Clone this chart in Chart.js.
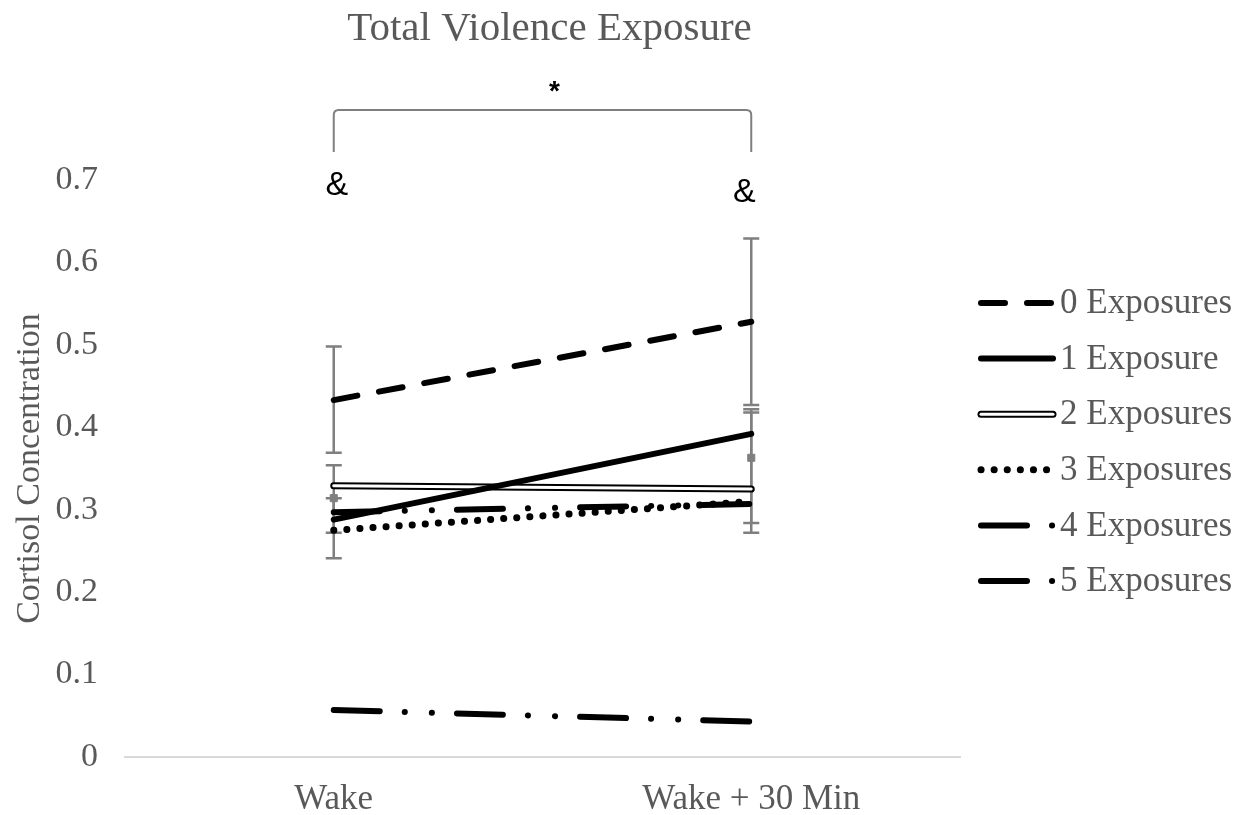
<!DOCTYPE html>
<html>
<head>
<meta charset="utf-8">
<script src="https://cdn.jsdelivr.net/npm/chart.js@4.4.0/dist/chart.umd.min.js"></script>
<style>
  html, body { margin: 0; padding: 0; background: #fff; }
  #wrap { width: 1237px; height: 815px; }
</style>
</head>
<body>
<div id="wrap"><canvas id="chart"></canvas></div>
<script>
const timepoints = ['Wake', 'Wake + 30 Min'];
const seriesNames = ['0 Exposures', '1 Exposure', '2 Exposures', '3 Exposures', '4 Exposures', '5 Exposures'];

const zeroExposures = [0.433, 0.528];
const oneExposure = [0.288, 0.392];
const twoExposures = [0.329, 0.325];
const threeExposures = [0.275, 0.310];
const fourExposures = [0.297, 0.307];
const fiveExposures = [0.057, 0.043];

// error bars (low / high)
const zeroErrLow = [0.369, 0.427];
const zeroErrHigh = [0.498, 0.629];
const oneErrLow = [0.241, 0.272];
const oneErrHigh = [0.354, 0.418];
const threeErrLow = [0.272, 0.284];
const threeErrHigh = [0.314, 0.422];
const greyMarkers = [0.314, 0.363];

const serif = '"Liberation Serif", "Times New Roman", serif';
const grey = '#595959';

const styles = [
  { dash: [24, 22], width: 6 },
  { dash: [], width: 6 },
  { dash: [], width: 7, double: true },
  { dash: [0.1, 13], width: 7 },
  { dash: [46, 25, 0.1, 27, 0.1, 25], width: 6 },
  { dash: [46, 25, 0.1, 27, 0.1, 25], width: 6 }
];

const errorBars = [
  { low: zeroErrLow, high: zeroErrHigh },
  { low: oneErrLow, high: oneErrHigh },
  { low: threeErrLow, high: threeErrHigh }
];

function lineSet(label, data, style, order, color, width) {
  return {
    label: label,
    data: data,
    borderColor: color || '#000',
    borderWidth: width || style.width,
    borderDash: style.dash,
    borderCapStyle: 'round',
    pointRadius: 0,
    fill: false,
    tension: 0,
    order: order
  };
}

const errorBarPlugin = {
  id: 'errorBars',
  beforeDatasetsDraw(chart) {
    const ctx = chart.ctx;
    const x = chart.scales.x, y = chart.scales.y;
    ctx.save();
    ctx.strokeStyle = '#7f7f7f';
    ctx.lineWidth = 2.5;
    errorBars.forEach(eb => {
      eb.low.forEach((lo, i) => {
        const px = x.getPixelForValue(i);
        const y1 = y.getPixelForValue(lo), y2 = y.getPixelForValue(eb.high[i]);
        ctx.beginPath();
        ctx.moveTo(px, y1); ctx.lineTo(px, y2);
        ctx.moveTo(px - 8, y1); ctx.lineTo(px + 8, y1);
        ctx.moveTo(px - 8, y2); ctx.lineTo(px + 8, y2);
        ctx.stroke();
      });
    });
    ctx.restore();
  }
};

const annotationPlugin = {
  id: 'annotations',
  afterDraw(chart) {
    const ctx = chart.ctx;
    const x = chart.scales.x;
    const top = chart.chartArea.top;
    const x0 = x.getPixelForValue(0), x1 = x.getPixelForValue(1);
    ctx.save();
    // title, a little right of the plot centre as in the source
    ctx.fillStyle = grey;
    ctx.textAlign = 'center';
    ctx.textBaseline = 'middle';
    ctx.font = '41px ' + serif;
    ctx.fillText('Total Violence Exposure', (x0 + x1) / 2 + 7, top - 151);
    // bracket
    ctx.strokeStyle = '#7f7f7f';
    ctx.lineWidth = 2;
    const by = top - 70, r = 5;
    ctx.beginPath();
    ctx.moveTo(x0, top - 28);
    ctx.lineTo(x0, by + r);
    ctx.quadraticCurveTo(x0, by, x0 + r, by);
    ctx.lineTo(x1 - r, by);
    ctx.quadraticCurveTo(x1, by, x1, by + r);
    ctx.lineTo(x1, top - 28);
    ctx.stroke();
    ctx.fillStyle = '#000';
    ctx.font = 'bold 28px "Liberation Sans", Arial, sans-serif';
    ctx.fillText('*', (x0 + x1) / 2 + 12, top - 88);
    ctx.font = '34px "Liberation Sans", Arial, sans-serif';
    ctx.fillText('&', x0 + 3, top + 6);
    ctx.fillText('&', x1 - 7, top + 13);

    // legend
    const lx = chart.chartArea.right + 18;
    ctx.textAlign = 'left';
    ctx.font = '35px ' + serif;
    seriesNames.forEach((name, i) => {
      const st = styles[i];
      const ly = 303 + i * 55.6;
      ctx.save();
      ctx.lineCap = 'round';
      ctx.setLineDash(st.dash);
      ctx.strokeStyle = '#000';
      ctx.lineWidth = st.width;
      ctx.beginPath();
      ctx.moveTo(lx + 3, ly); ctx.lineTo(lx + 75, ly);
      ctx.stroke();
      if (st.double) {
        ctx.strokeStyle = '#fff';
        ctx.lineWidth = 3;
        ctx.beginPath();
        ctx.moveTo(lx + 3, ly); ctx.lineTo(lx + 75, ly);
        ctx.stroke();
      }
      ctx.restore();
      ctx.fillStyle = grey;
      ctx.fillText(name, lx + 82, ly + 1);
    });
    ctx.restore();
  }
};

const ctx = document.getElementById('chart').getContext('2d');
const chart = new Chart(ctx, {
  type: 'line',
  data: {
    labels: timepoints,
    datasets: [
      lineSet(seriesNames[0], zeroExposures, styles[0], 1),
      lineSet(seriesNames[1], oneExposure, styles[1], 2),
      lineSet(seriesNames[2], twoExposures, styles[2], 4),
      lineSet(seriesNames[2] + ' inner', twoExposures, styles[2], 3, '#fff', 3),
      lineSet(seriesNames[3], threeExposures, styles[3], 5),
      lineSet(seriesNames[4], fourExposures, styles[4], 6),
      lineSet(seriesNames[5], fiveExposures, styles[5], 7),
      {
        label: 'markers',
        data: greyMarkers,
        showLine: false,
        pointStyle: 'rect',
        pointRadius: 5,
        backgroundColor: '#7f7f7f',
        borderColor: '#7f7f7f',
        order: 8
      }
    ]
  },
  options: {
    responsive: true,
    maintainAspectRatio: false,
    animation: false,
    layout: { padding: { left: 0, right: 277, top: 180, bottom: 0 } },
    scales: {
      x: {
        offset: true,
        grid: { display: false, drawTicks: false },
        border: { display: true, color: '#d9d9d9', width: 2 },
        ticks: { color: grey, font: { family: serif, size: 35 }, padding: 22 },
        afterFit(scale) { scale.height = 58; }
      },
      y: {
        min: 0,
        max: 0.7,
        grid: { display: false, drawTicks: false },
        border: { display: false },
        ticks: {
          stepSize: 0.1,
          color: grey,
          padding: 27,
          font: { family: serif, size: 34 },
          callback: v => v === 0 ? '0' : v.toFixed(1)
        },
        title: {
          display: true,
          text: 'Cortisol Concentration',
          color: grey,
          font: { family: serif, size: 34 },
          padding: { top: 10, bottom: 0 }
        },
        afterFit(scale) { scale.width = 125; }
      }
    },
    plugins: {
      legend: { display: false },
      tooltip: { enabled: false },
      title: { display: false }
    }
  },
  plugins: [errorBarPlugin, annotationPlugin]
});
</script>
</body>
</html>
